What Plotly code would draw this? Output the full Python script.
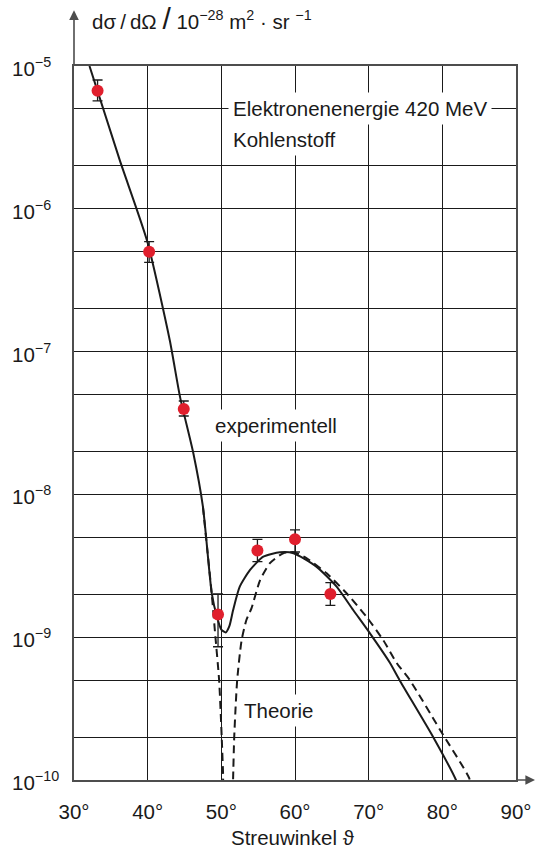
import plotly.graph_objects as go

# Measured cross sections (scattering angle in degrees, dσ/dΩ in 1e-28 m^2/sr)
angle_meas = [33.2, 40.2, 44.9, 49.55, 54.9, 60.0, 64.8]
sigma_meas = [6.7e-6, 5.0e-7, 3.96e-8, 1.44e-9, 4.04e-9, 4.85e-9, 2.01e-9]
sigma_hi = [7.98e-6, 5.89e-7, 4.51e-8, 2.01e-9, 4.85e-9, 5.64e-9, 2.41e-9]
sigma_lo = [5.69e-6, 4.21e-7, 3.54e-8, 8.57e-10, 3.38e-9, 3.95e-9, 1.67e-9]

# Fit through the measurements ("experimentell")
angle_exp = [32.1, 36.2, 39.95, 43.0, 44.4, 46.2, 47.5, 48.7, 49.4, 50.0, 50.6,
             51.1, 51.6, 52.5, 53.9, 55.7, 57.95, 59.8, 62.9, 65.65, 67.9, 70.2,
             72.9, 74.2, 78.75, 81.85, 82.3]
sigma_exp = [1.0e-5, 2.2e-6, 5.9e-7, 1.2e-7, 4.8e-8, 1.94e-8, 8.2e-9, 2.03e-9,
             1.39e-9, 1.13e-9, 1.08e-9, 1.2e-9, 1.55e-9, 2.26e-9, 2.96e-9,
             3.66e-9, 3.93e-9, 3.87e-9, 3.12e-9, 2.26e-9, 1.55e-9, 1.06e-9,
             6.6e-10, 5.0e-10, 2.0e-10, 1.0e-10, 8.5e-11]

# Theoretical curve with its diffraction zero near 51 degrees ("Theorie")
angle_th = [47.5, 48.7, 49.2, 49.7, 50.05, 50.25, 50.3, 51.55, 51.6, 51.75,
            52.15, 52.75, 53.4, 54.1, 55.25, 56.6, 58.4, 59.8, 61.6, 64.3, 67.0,
            69.7, 72.0, 73.8, 75.6, 79.7, 83.65, 84.0]
sigma_th = [8.2e-9, 2.0e-9, 1.0e-9, 5.0e-10, 2.0e-10, 1.05e-10, 8.0e-11,
            8.0e-11, 1.03e-10, 2.0e-10, 5.0e-10, 9.5e-10, 1.32e-9, 1.6e-9,
            2.5e-9, 3.3e-9, 3.87e-9, 3.94e-9, 3.57e-9, 2.8e-9, 2.03e-9, 1.39e-9,
            9.5e-10, 6.6e-10, 5.0e-10, 2.24e-10, 1.03e-10, 8.5e-11]

x_ticks = [30, 40, 50, 60, 70, 80, 90]
x_ticktext = ["30°", "40°", "50°", "60°", "70°", "80°", "90°"]
decades = [-10, -9, -8, -7, -6, -5]

FONT = "Liberation Sans, Arial, Helvetica, sans-serif"
INK = "#1a1a1a"
AXIS = "#4d4d4d"
FS = 20.5

# grid at powers of ten plus 2 and 5 per decade
y_major = [10.0 ** d for d in decades]
y_minor = [m * 10.0 ** d for d in decades[:-1] for m in (2, 5)]

fig = go.Figure()

fig.add_trace(go.Scatter(
    x=angle_th, y=sigma_th, mode="lines",
    line=dict(color=INK, width=2, dash="8px,5px", shape="spline", smoothing=0.6),
    hoverinfo="skip", showlegend=False))

fig.add_trace(go.Scatter(
    x=angle_exp, y=sigma_exp, mode="lines",
    line=dict(color=INK, width=2, shape="spline", smoothing=0.6),
    hoverinfo="skip", showlegend=False))

fig.add_trace(go.Scatter(
    x=angle_meas, y=sigma_meas, mode="markers",
    marker=dict(color="#e01f2d", size=12),
    error_y=dict(type="data", symmetric=False,
                 array=[h - v for h, v in zip(sigma_hi, sigma_meas)],
                 arrayminus=[v - l for l, v in zip(sigma_lo, sigma_meas)],
                 color=INK, thickness=1.3, width=5),
    showlegend=False))

fig.update_xaxes(
    range=[30, 90], tickvals=x_ticks, ticktext=x_ticktext,
    showgrid=True, gridcolor=INK, gridwidth=1.2,
    showline=True, linecolor=AXIS, linewidth=1.6, mirror=True,
    ticks="", ticklabelstandoff=13, zeroline=False, automargin=False,
    tickfont=dict(family=FONT, size=FS, color=INK))

fig.update_yaxes(
    type="log", range=[-10, -5], tickvals=y_major, showticklabels=False,
    showgrid=True, gridcolor=INK, gridwidth=1.2,
    minor=dict(tickmode="array", tickvals=y_minor, showgrid=True,
               gridcolor=INK, gridwidth=1.2, ticks=""),
    showline=True, linecolor=AXIS, linewidth=1.6, mirror=True,
    ticks="", zeroline=False, automargin=False)

label_font = dict(family=FONT, size=FS, color=INK)

# left-aligned decade labels of the ordinate
for d in decades:
    fig.add_annotation(
        x=-0.145, y=d, xref="paper", yref="y", xanchor="left", yanchor="middle",
        yshift=-1, text=f"10<sup>−{-d}</sup>", showarrow=False, font=label_font)

annotations = [
    dict(x=52.0, y=-5.301, text="Elektronenenergie 420 MeV"),
    dict(x=52.0, y=-5.518, text="Kohlenstoff"),
    dict(x=49.6, y=-7.514, text="experimentell"),
    dict(x=53.5, y=-9.51, text="Theorie"),
]
for a in annotations:
    fig.add_annotation(
        x=a["x"], y=a["y"], xref="x", yref="y", text=a["text"],
        xanchor="left", yanchor="middle", xshift=-8, showarrow=False,
        bgcolor="white", borderpad=4, font=label_font)

# axis title on top of the ordinate
fig.add_annotation(
    x=0.036, y=1.066, xref="paper", yref="paper", xanchor="left", yanchor="middle",
    text='dσ\u2009/\u2009dΩ <span style="font-size:30px">/</span> '
         '10<sup>−28</sup> m<sup>2</sup> · sr <sup>−1</sup>',
    showarrow=False, font=label_font)

# abscissa title
fig.add_annotation(
    x=0.496, y=-0.080, xref="paper", yref="paper", xanchor="center", yanchor="middle",
    text="Streuwinkel ϑ", showarrow=False, font=label_font)

# arrow heads extending both axes
fig.add_annotation(
    x=30, y=1.078, xref="x", yref="paper", ax=0, ay=56, axref="pixel", ayref="pixel",
    text="", showarrow=True, arrowhead=2, arrowsize=1.2, arrowwidth=1.6,
    arrowcolor=AXIS)
fig.add_annotation(
    x=1.043, y=-10, xref="paper", yref="y", ax=-19, ay=0, axref="pixel", ayref="pixel",
    text="", showarrow=True, arrowhead=2, arrowsize=1.2, arrowwidth=1.6,
    arrowcolor=AXIS)

fig.update_layout(
    width=537, height=848,
    margin=dict(l=74, r=21, t=66, b=68),
    paper_bgcolor="white", plot_bgcolor="white",
    font=dict(family=FONT, color=INK),
)

fig.write_html("out.html")
